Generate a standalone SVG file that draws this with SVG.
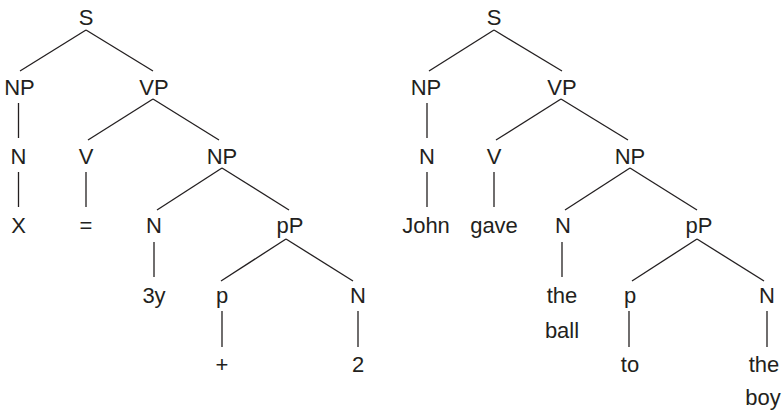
<svg xmlns="http://www.w3.org/2000/svg" width="782" height="413" viewBox="0 0 782 413">
<style>
text{font-family:"Liberation Sans",Arial,sans-serif;font-size:22px;fill:#231f20;text-anchor:middle}
.e line{stroke:#231f20;stroke-width:1.3}
</style>
<rect width="782" height="413" fill="#fff"/>
<g id="connectors" class="e">
<line x1="86" y1="30" x2="20" y2="71"/>
<line x1="86" y1="30" x2="153" y2="71"/>
<line x1="18.5" y1="103" x2="18.5" y2="138"/>
<line x1="153" y1="99" x2="88" y2="140"/>
<line x1="153" y1="99" x2="219" y2="140"/>
<line x1="18.5" y1="172" x2="18.5" y2="207"/>
<line x1="86" y1="172" x2="86" y2="207"/>
<line x1="222" y1="168" x2="157" y2="210"/>
<line x1="222" y1="168" x2="289" y2="210"/>
<line x1="154" y1="242" x2="154" y2="277"/>
<line x1="286" y1="239" x2="221" y2="281"/>
<line x1="286" y1="239" x2="353" y2="281"/>
<line x1="222" y1="311" x2="222" y2="347"/>
<line x1="358" y1="311" x2="358" y2="347"/>
<line x1="494" y1="30" x2="429" y2="71"/>
<line x1="494" y1="30" x2="562" y2="71"/>
<line x1="427" y1="103" x2="427" y2="138"/>
<line x1="561" y1="99" x2="496" y2="140"/>
<line x1="561" y1="99" x2="628" y2="140"/>
<line x1="427" y1="172" x2="427" y2="207"/>
<line x1="494" y1="172" x2="494" y2="207"/>
<line x1="630" y1="168" x2="565" y2="210"/>
<line x1="630" y1="168" x2="697" y2="210"/>
<line x1="562" y1="242" x2="562" y2="277"/>
<line x1="697" y1="239" x2="632" y2="281"/>
<line x1="697" y1="239" x2="764" y2="281"/>
<line x1="629" y1="311" x2="629" y2="347"/>
<line x1="767" y1="311" x2="767" y2="347"/>
</g>
<g id="L-S"><text x="86" y="25">S</text></g>
<g id="L-NP1"><text x="19.5" y="95">NP</text></g>
<g id="L-VP"><text x="154" y="95">VP</text></g>
<g id="L-N1"><text x="18.5" y="164">N</text></g>
<g id="L-V"><text x="86" y="164">V</text></g>
<g id="L-NP2"><text x="222" y="164">NP</text></g>
<g id="L-X"><text x="18.5" y="233">X</text></g>
<g id="L-eq"><text x="86" y="233">=</text></g>
<g id="L-N2"><text x="154" y="233">N</text></g>
<g id="L-pP"><text x="290" y="233">pP</text></g>
<g id="L-3y"><text x="154" y="303">3y</text></g>
<g id="L-p"><text x="222" y="303">p</text></g>
<g id="L-N3"><text x="358" y="303">N</text></g>
<g id="L-plus"><text x="222" y="372">+</text></g>
<g id="L-2"><text x="358" y="372">2</text></g>
<g id="R-S"><text x="494" y="25">S</text></g>
<g id="R-NP1"><text x="426" y="95">NP</text></g>
<g id="R-VP"><text x="562" y="95">VP</text></g>
<g id="R-N1"><text x="427" y="164">N</text></g>
<g id="R-V"><text x="494" y="164">V</text></g>
<g id="R-NP2"><text x="630" y="164">NP</text></g>
<g id="R-John"><text x="426" y="233">John</text></g>
<g id="R-gave"><text x="494" y="233">gave</text></g>
<g id="R-N2"><text x="563" y="233">N</text></g>
<g id="R-pP"><text x="699" y="233">pP</text></g>
<g id="R-theball"><text x="562" y="303">the</text><text x="562" y="338">ball</text></g>
<g id="R-p"><text x="630" y="303">p</text></g>
<g id="R-N3"><text x="767" y="303">N</text></g>
<g id="R-to"><text x="630" y="372">to</text></g>
<g id="R-theboy"><text x="764" y="372">the</text><text x="763" y="405">boy</text></g>
</svg>
